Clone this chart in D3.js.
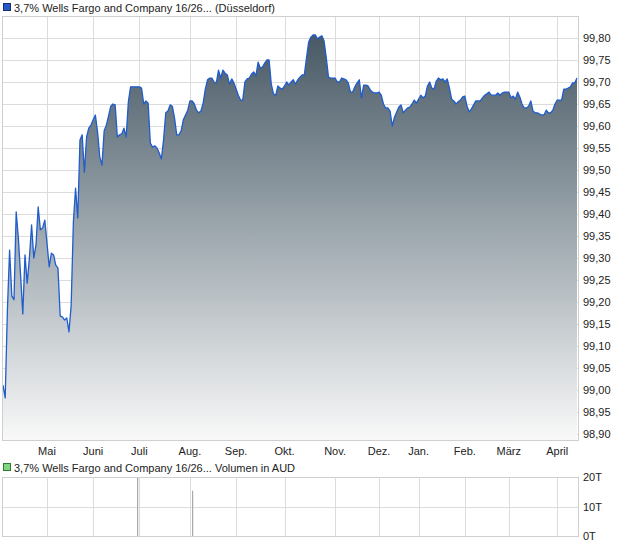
<!DOCTYPE html>
<html>
<head>
<meta charset="utf-8">
<script src="https://cdn.jsdelivr.net/npm/d3@7"></script>
<style>
  html, body { margin: 0; padding: 0; background: #fff; }
  svg { display: block; }
  text { font-family: "Liberation Sans", Arial, sans-serif; font-size: 11px; fill: #222; }
</style>
</head>
<body>
<svg id="chart" width="620" height="546"></svg>
<script>
// ---- data ----
const title = "3,7% Wells Fargo and Company 16/26... (Düsseldorf)";
const volumeTitle = "3,7% Wells Fargo and Company 16/26... Volumen in AUD";

// closing prices, one per trading day
const prices = [
  99.011, 98.982, 99.182, 99.318, 99.214, 99.205, 99.405, 99.345, 99.261, 99.173,
  99.307, 99.243, 99.300, 99.375, 99.300, 99.330, 99.416, 99.364, 99.368, 99.386,
  99.334, 99.280, 99.311, 99.307, 99.284, 99.277, 99.168, 99.166, 99.159, 99.164,
  99.132, 99.193, 99.382, 99.459, 99.391, 99.568, 99.580, 99.495, 99.575, 99.595,
  99.602, 99.614, 99.625, 99.586, 99.530, 99.511, 99.589, 99.602, 99.623, 99.645,
  99.650, 99.648, 99.575, 99.580, 99.582, 99.595, 99.575, 99.655, 99.689, 99.689,
  99.689, 99.689, 99.689, 99.686, 99.650, 99.657, 99.652, 99.561, 99.552, 99.555,
  99.550, 99.539, 99.525, 99.568, 99.630, 99.634, 99.648, 99.645, 99.618, 99.580,
  99.580, 99.589, 99.614, 99.625, 99.636, 99.657, 99.657, 99.650, 99.636, 99.630,
  99.634, 99.652, 99.684, 99.705, 99.709, 99.709, 99.700, 99.698, 99.727, 99.709,
  99.727, 99.720, 99.716, 99.695, 99.707, 99.698, 99.684, 99.670, 99.659, 99.659,
  99.700, 99.707, 99.709, 99.718, 99.723, 99.714, 99.745, 99.732, 99.734, 99.743,
  99.750, 99.750, 99.695, 99.673, 99.670, 99.691, 99.686, 99.684, 99.691, 99.700,
  99.693, 99.700, 99.705, 99.695, 99.705, 99.711, 99.716, 99.716, 99.755, 99.791,
  99.802, 99.807, 99.807, 99.798, 99.802, 99.805, 99.793, 99.755, 99.711, 99.709,
  99.709, 99.709, 99.700, 99.700, 99.709, 99.707, 99.705, 99.698, 99.677, 99.677,
  99.689, 99.698, 99.705, 99.664, 99.693, 99.693, 99.691, 99.682, 99.677, 99.675,
  99.675, 99.677, 99.670, 99.650, 99.641, 99.641, 99.634, 99.600, 99.620, 99.632,
  99.643, 99.648, 99.630, 99.636, 99.641, 99.643, 99.650, 99.659, 99.652, 99.661,
  99.670, 99.664, 99.668, 99.691, 99.700, 99.686, 99.684, 99.702, 99.709, 99.705,
  99.707, 99.700, 99.707, 99.686, 99.661, 99.657, 99.650, 99.655, 99.659, 99.666,
  99.668, 99.645, 99.632, 99.639, 99.648, 99.657, 99.657, 99.657, 99.664, 99.670,
  99.673, 99.677, 99.670, 99.670, 99.670, 99.675, 99.670, 99.675, 99.677, 99.677,
  99.677, 99.664, 99.668, 99.661, 99.677, 99.666, 99.650, 99.641, 99.641, 99.645,
  99.657, 99.634, 99.630, 99.630, 99.627, 99.625, 99.625, 99.636, 99.630, 99.630,
  99.636, 99.650, 99.659, 99.659, 99.659, 99.684, 99.684, 99.686, 99.689, 99.698,
  99.698, 99.709
];

// month labels and the trading-day index where each month starts
const monthLabels = ["Mai", "Juni", "Juli", "Aug.", "Sep.", "Okt.", "Nov.", "Dez.", "Jan.", "Feb.", "März", "April"];
const monthStarts = [20, 41, 62, 85, 106, 128, 151, 171, 189, 210, 230, 252];

// price axis ticks
const priceTicks = [98.90, 98.95, 99.00, 99.05, 99.10, 99.15, 99.20, 99.25, 99.30, 99.35,
                    99.40, 99.45, 99.50, 99.55, 99.60, 99.65, 99.70, 99.75, 99.80];

// volume: trading days with turnover, and amounts in AUD
const volumeDays = [61, 86];
const volumeValues = [20000, 15500];
const volumeTicks = [0, 10000, 20000];
const volumeTickLabels = ["0T", "10T", "20T"];

// ---- layout ----
const svg = d3.select("#chart");
const plot = { left: 2.5, right: 578.5, top: 16.5, bottom: 440.5 };
const vplot = { left: 2.5, right: 578.5, top: 477.5, bottom: 536.5 };

const x = d3.scaleLinear().domain([0, prices.length - 1]).range([3, 577]);
const y = d3.scaleLinear().domain([98.90, 99.80]).range([434, 38]);
const yv = d3.scaleLinear().domain([0, 20000]).range([vplot.bottom, vplot.top]);

const fmt = d => d.toFixed(2).replace(".", ",");

// gradient
const defs = svg.append("defs");
const grad = defs.append("linearGradient")
  .attr("id", "areaGrad")
  .attr("gradientUnits", "userSpaceOnUse")
  .attr("x1", 0).attr("x2", 0)
  .attr("y1", y(d3.max(prices))).attr("y2", plot.bottom);
grad.append("stop").attr("offset", "0%").attr("stop-color", "#485965");
grad.append("stop").attr("offset", "45%").attr("stop-color", "#97a2a9");
grad.append("stop").attr("offset", "100%").attr("stop-color", "#f9f9f9");

defs.append("clipPath").attr("id", "clipMain")
  .append("rect")
  .attr("x", plot.left).attr("y", plot.top)
  .attr("width", plot.right - plot.left).attr("height", plot.bottom - plot.top);

// legend (top)
svg.append("rect").attr("x", 3.5).attr("y", 3.5).attr("width", 7).attr("height", 7)
  .attr("fill", "#2458c8").attr("stroke", "#1a2f66").attr("stroke-width", 1);
svg.append("text").attr("x", 14).attr("y", 11.5).text(title);

// main plot background & grid
svg.append("rect")
  .attr("x", plot.left).attr("y", plot.top)
  .attr("width", plot.right - plot.left).attr("height", plot.bottom - plot.top)
  .attr("fill", "#fff");

const grid = svg.append("g").attr("stroke", "#dcdcdc").attr("stroke-width", 1);
grid.selectAll("line.h").data(priceTicks).join("line")
  .attr("x1", plot.left).attr("x2", plot.right)
  .attr("y1", d => Math.round(y(d)) + 0.5).attr("y2", d => Math.round(y(d)) + 0.5);
grid.selectAll("line.v").data(monthStarts).join("line")
  .attr("x1", d => Math.round(x(d)) + 0.5).attr("x2", d => Math.round(x(d)) + 0.5)
  .attr("y1", plot.top).attr("y2", plot.bottom);

// area + line
const area = d3.area()
  .x((d, i) => x(i))
  .y0(plot.bottom)
  .y1(d => y(d));
const line = d3.line()
  .x((d, i) => x(i))
  .y(d => y(d));

const g = svg.append("g").attr("clip-path", "url(#clipMain)");
g.append("path").datum(prices).attr("d", area).attr("fill", "url(#areaGrad)");
g.append("path").datum(prices).attr("d", line)
  .attr("fill", "none").attr("stroke", "#1f5ccc").attr("stroke-width", 1.3)
  .attr("stroke-linejoin", "round");

// frame
svg.append("rect")
  .attr("x", plot.left).attr("y", plot.top)
  .attr("width", plot.right - plot.left).attr("height", plot.bottom - plot.top)
  .attr("fill", "none").attr("stroke", "#cfcfcf");

// y axis labels
svg.append("g").selectAll("text").data(priceTicks).join("text")
  .attr("x", 583).attr("y", d => y(d)).attr("dy", "0.35em")
  .text(fmt);

// x axis labels
svg.append("g").selectAll("text").data(monthStarts).join("text")
  .attr("x", d => x(d)).attr("y", 454.5)
  .attr("text-anchor", "middle")
  .text((d, i) => monthLabels[i]);

// ---- volume panel ----
svg.append("rect").attr("x", 3.5).attr("y", 463.5).attr("width", 7).attr("height", 7)
  .attr("fill", "#7ed67e").attr("stroke", "#2f7a2f").attr("stroke-width", 1);
svg.append("text").attr("x", 14).attr("y", 471.5).text(volumeTitle);

svg.append("rect")
  .attr("x", vplot.left).attr("y", vplot.top)
  .attr("width", vplot.right - vplot.left).attr("height", vplot.bottom - vplot.top)
  .attr("fill", "#fff");

const vgrid = svg.append("g").attr("stroke", "#dcdcdc");
vgrid.selectAll("line.h").data(volumeTicks).join("line")
  .attr("x1", vplot.left).attr("x2", vplot.right)
  .attr("y1", d => Math.round(yv(d) - 0.5) + 0.5).attr("y2", d => Math.round(yv(d) - 0.5) + 0.5);
vgrid.selectAll("line.v").data(monthStarts).join("line")
  .attr("x1", d => Math.round(x(d)) + 0.5).attr("x2", d => Math.round(x(d)) + 0.5)
  .attr("y1", vplot.top).attr("y2", vplot.bottom);

svg.append("g").selectAll("rect").data(volumeDays).join("rect")
  .attr("x", d => Math.round(x(d)))
  .attr("width", 1.2)
  .attr("y", (d, i) => yv(volumeValues[i]))
  .attr("height", (d, i) => vplot.bottom - yv(volumeValues[i]))
  .attr("fill", "#a8a8a8");

svg.append("rect")
  .attr("x", vplot.left).attr("y", vplot.top)
  .attr("width", vplot.right - vplot.left).attr("height", vplot.bottom - vplot.top)
  .attr("fill", "none").attr("stroke", "#cfcfcf");

svg.append("g").selectAll("text").data(volumeTicks).join("text")
  .attr("x", 583).attr("y", d => yv(d)).attr("dy", "0.35em")
  .text((d, i) => volumeTickLabels[i]);
</script>
</body>
</html>
